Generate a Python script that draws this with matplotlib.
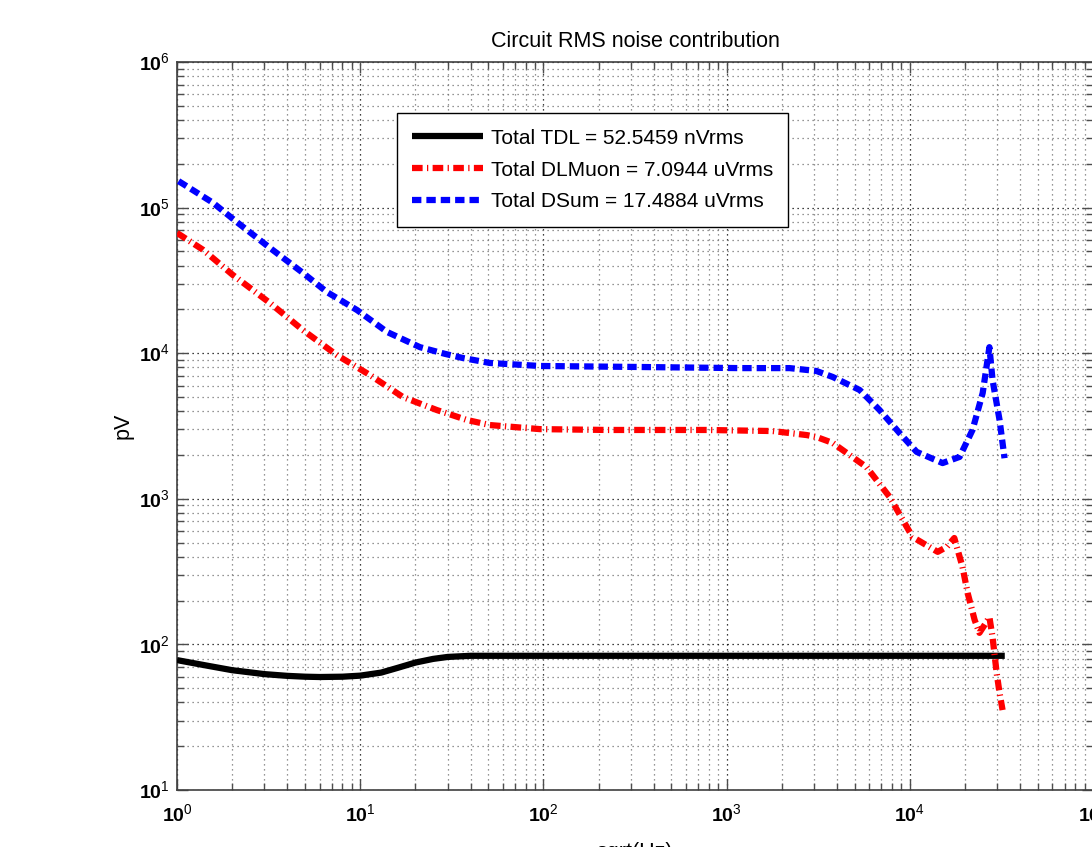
import matplotlib
matplotlib.use('Agg')
import math
import matplotlib.pyplot as plt
from matplotlib.ticker import LogLocator, FuncFormatter, NullFormatter

# ---- data ----
tdl_f = [1, 1.5, 2, 3, 4, 5, 6, 8, 10, 13, 16, 20, 25, 30, 40, 60, 100, 1e3, 1e4, 3.3e4]
tdl_v = [78, 71, 66.5, 62.5, 60.8, 60, 59.7, 60, 61, 64, 69, 75, 79.5, 82, 83.5, 83.5, 83.5, 83.5, 83.5, 83.5]

dlmuon_f = [1, 1.39, 2.02, 3.22, 4.87, 7.46, 11.3, 17.1, 26.2, 38.2, 51, 95.6, 222, 779,
            1786, 2735, 3090, 3793, 5808, 7760, 10350, 14200, 15900, 17500, 19400, 20700,
            22600, 24000, 25600, 27200, 28300, 29800, 30900, 32100]
dlmuon_v = [6.7e4, 5.12e4, 3.44e4, 2.21e4, 1.44e4, 9.7e3, 7.08e3, 5.0e3, 4.07e3, 3.48e3,
            3.21e3, 3.01e3, 2.97e3, 2.97e3, 2.92e3, 2.74e3, 2.66e3, 2.42e3, 1.65e3, 1.03e3,
            547, 432, 467, 538, 340, 225, 147, 120, 136, 154, 112, 63.7, 46.4, 35.4]

dsum_f = [1.02, 1.57, 2.12, 3.22, 4.87, 6.58, 9.6, 14, 21.2, 29, 36.3, 51, 95.6, 336, 1175,
          2208, 3090, 3793, 5325, 6840, 8790, 10900, 15100, 18700, 22000, 25000, 27200,
          28300, 30900, 32900]
dsum_v = [1.52e5, 1.08e5, 7.96e4, 5.28e4, 3.56e4, 2.63e4, 1.98e4, 1.4e4, 1.1e4, 9.9e3,
          9.27e3, 8.57e3, 8.17e3, 8.04e3, 7.9e3, 7.9e3, 7.55e3, 6.87e3, 5.59e3, 4.07e3,
          2.83e3, 2.1e3, 1.76e3, 1.94e3, 2.97e3, 5.33e3, 1.1e4, 6.55e3, 3.48e3, 1.9e3]

labels = ['Total TDL = 52.5459 nVrms',
          'Total DLMuon = 7.0944 uVrms',
          'Total DSum = 17.4884 uVrms']
title = 'Circuit RMS noise contribution'
xlabel = 'sqrt(Hz)'
ylabel = 'pV'

# ---- style ----
plt.rcParams['font.family'] = ['Liberation Sans', 'DejaVu Sans']
plt.rcParams['mathtext.fontset'] = 'custom'
plt.rcParams['mathtext.rm'] = 'Liberation Sans'
plt.rcParams['mathtext.bf'] = 'Liberation Sans:bold'

fig = plt.figure(figsize=(10.92, 8.47), dpi=100)
ax = fig.add_axes([0.1621, 0.0673, 0.8388, 0.8595])

lw = 4.5
ax.plot(tdl_f, tdl_v, color='black', lw=lw, solid_capstyle='butt', label=labels[0], zorder=3)
ax.plot(dlmuon_f, dlmuon_v, color='red', lw=lw, linestyle=(0, (1.7, 0.7, 0.2, 0.7)),
        label=labels[1], zorder=3)
ax.plot(dsum_f, dsum_v, color='blue', lw=lw, linestyle=(0, (1.5, 0.8)),
        label=labels[2], zorder=3)

ax.set_xscale('log')
ax.set_yscale('log')
ax.set_xlim(1, 1e5)
ax.set_ylim(10, 1e6)

ax.xaxis.set_major_locator(LogLocator(base=10, numticks=20))
ax.yaxis.set_major_locator(LogLocator(base=10, numticks=20))
ax.xaxis.set_minor_locator(LogLocator(base=10, subs=range(2, 10), numticks=100))
ax.yaxis.set_minor_locator(LogLocator(base=10, subs=range(2, 10), numticks=100))
ax.xaxis.set_minor_formatter(NullFormatter())
ax.yaxis.set_minor_formatter(NullFormatter())


def fmt(v, pos):
    e = int(round(math.log10(v)))
    return r'$\mathbf{10}^{\mathrm{%d}}$' % e


ax.xaxis.set_major_formatter(FuncFormatter(fmt))
ax.yaxis.set_major_formatter(FuncFormatter(fmt))

ax.tick_params(which='both', direction='in', top=True, right=True, width=1, color='0.3')
ax.tick_params(which='major', length=8)
ax.tick_params(which='minor', length=5)
ax.tick_params(axis='x', which='major', labelsize=14, pad=10)
ax.tick_params(axis='y', which='major', labelsize=14, pad=5)

ax.grid(True, which='major', linestyle=(0, (1, 3)), color='black', lw=0.9)
ax.grid(True, which='minor', linestyle=(0, (1, 3)), color='0.45', lw=0.9)
ax.set_axisbelow(True)
for s in ax.spines.values():
    s.set_color('0.25')
    s.set_linewidth(1.2)

ax.set_title(title, fontsize=15.5, pad=11)
ax.set_xlabel(xlabel, fontsize=15.5, labelpad=11)
ax.set_ylabel(ylabel, fontsize=15.5, labelpad=4)

leg = ax.legend(loc='upper left', bbox_to_anchor=(0.240, 0.930), borderaxespad=0,
                fontsize=15, handlelength=3.4, handletextpad=0.35, labelspacing=0.62,
                borderpad=0.75, fancybox=False, framealpha=1, edgecolor='black')
leg.get_frame().set_linewidth(1.0)

fig.savefig('out.png', dpi=100)
